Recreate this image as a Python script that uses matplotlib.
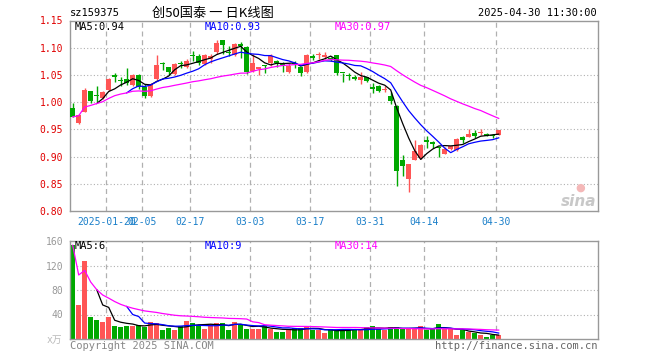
import numpy as np
import pandas as pd
import matplotlib
matplotlib.use('Agg')
import matplotlib.pyplot as plt

plt.rcParams['font.family'] = ['DejaVu Sans Mono', 'Noto Sans CJK SC']

# daily bars, 2025-01-10 .. 2025-04-30 (72 trading days)
open_ = [0.989, 0.962, 0.982, 1.020, 1.012, 1.007, 1.022, 1.048, 1.040, 1.042,
         1.031, 1.050, 1.028, 1.011, 1.042, 1.071, 1.064, 1.051, 1.071, 1.064,
         1.086, 1.085, 1.070, 1.079, 1.092, 1.114, 1.093, 1.087, 1.107, 1.102,
         1.058, 1.061, 1.067, 1.072, 1.075, 1.072, 1.056, 1.071, 1.064, 1.056,
         1.083, 1.087, 1.083, 1.080, 1.086, 1.054, 1.049, 1.047, 1.041, 1.046,
         1.026, 1.030, 1.022, 1.012, 0.993, 0.894, 0.858, 0.894, 0.898, 0.931,
         0.925, 0.916, 0.905, 0.913, 0.912, 0.936, 0.936, 0.944, 0.944, 0.942,
         0.939, 0.940]
high = [0.998, 0.978, 1.026, 1.021, 1.029, 1.020, 1.045, 1.054, 1.047, 1.062,
        1.052, 1.052, 1.034, 1.035, 1.086, 1.073, 1.064, 1.072, 1.075, 1.080,
        1.094, 1.088, 1.088, 1.088, 1.115, 1.115, 1.104, 1.108, 1.111, 1.103,
        1.089, 1.065, 1.068, 1.089, 1.078, 1.073, 1.072, 1.075, 1.064, 1.089,
        1.089, 1.092, 1.092, 1.083, 1.087, 1.054, 1.054, 1.050, 1.055, 1.047,
        1.036, 1.031, 1.029, 1.019, 0.995, 0.902, 0.887, 0.931, 0.924, 0.937,
        0.928, 0.919, 0.918, 0.920, 0.934, 0.937, 0.951, 0.948, 0.951, 0.943,
        0.942, 0.948]
low = [0.972, 0.960, 0.981, 0.998, 1.000, 1.005, 1.020, 1.037, 1.030, 1.031,
       1.030, 1.025, 1.008, 1.009, 1.041, 1.059, 1.050, 1.049, 1.062, 1.062,
       1.075, 1.068, 1.068, 1.072, 1.088, 1.088, 1.084, 1.085, 1.081, 1.051,
       1.056, 1.050, 1.054, 1.067, 1.064, 1.056, 1.053, 1.062, 1.048, 1.053,
       1.077, 1.079, 1.079, 1.075, 1.050, 1.037, 1.041, 1.041, 1.033, 1.037,
       1.017, 1.018, 1.019, 0.997, 0.846, 0.865, 0.834, 0.894, 0.895, 0.916,
       0.916, 0.899, 0.904, 0.912, 0.911, 0.925, 0.936, 0.934, 0.940, 0.937,
       0.934, 0.940]
close = [0.973, 0.977, 1.023, 1.003, 1.011, 1.018, 1.043, 1.047, 1.039, 1.036,
         1.050, 1.027, 1.012, 1.033, 1.069, 1.070, 1.056, 1.070, 1.070, 1.076,
         1.085, 1.072, 1.087, 1.085, 1.108, 1.105, 1.091, 1.106, 1.103, 1.056,
         1.072, 1.064, 1.066, 1.084, 1.071, 1.069, 1.067, 1.070, 1.054, 1.087,
         1.082, 1.088, 1.087, 1.079, 1.053, 1.053, 1.048, 1.043, 1.047, 1.039,
         1.025, 1.020, 1.025, 1.003, 0.873, 0.882, 0.887, 0.910, 0.922, 0.926,
         0.924, 0.915, 0.914, 0.919, 0.932, 0.931, 0.942, 0.937, 0.945, 0.938,
         0.938, 0.948]
# volume in 万
volume = [153, 56, 127, 36, 31, 28, 36, 22, 20, 22,
          22, 23, 20, 28, 26, 15, 18, 15, 22, 30,
          26, 23, 17, 25, 26, 26, 15, 28, 25, 17,
          17, 17, 22, 16, 12, 12, 16, 18, 18, 20,
          15, 15, 9, 16, 13, 16, 16, 16, 16, 20,
          22, 16, 14, 20, 20, 16, 16, 16, 22, 14,
          16, 25, 16, 16, 7, 15, 11, 9, 7, 4,
          6, 6]

date_ticks = [6, 12, 20, 30, 40, 50, 59, 71]
date_labels = ['2025-01-20', '02-05', '02-17', '03-03', '03-17', '03-31', '04-14', '04-30']
price_ticks = [0.80, 0.85, 0.90, 0.95, 1.00, 1.05, 1.10, 1.15]
vol_ticks = [40, 80, 120, 160]

RED = '#ff5555'
GREEN = '#00a800'
GRID = '#b0b0b0'
W, H = 660, 360

o = np.array(open_); c = np.array(close)
x = np.arange(len(c))
cols = np.where(c >= o, RED, GREEN)

def ma(vals, n):
    s = pd.Series(vals, dtype=float)
    if n == 30:
        return s.rolling(n, min_periods=1).mean()
    return s.rolling(n).mean()

fig = plt.figure(figsize=(6.6, 3.6), dpi=100)

def px_axes(l, t, r, b):
    return fig.add_axes([l / W, 1 - b / H, (r - l) / W, (b - t) / H])

x0 = (70 - 72.7) / 6
x1 = (597.7 - 72.7) / 6

ax = px_axes(70, 20.5, 597.7, 211)
ax2 = px_axes(70, 241, 597.7, 339)

for a in (ax, ax2):
    a.set_xlim(x0, x1)
    for sp in a.spines.values():
        sp.set_color('#999999')
        sp.set_linewidth(1)
    a.tick_params(length=0)
    for t in date_ticks:
        a.axvline(t - 0.4, color=GRID, lw=0.9, ls=(0, (4, 3)), zorder=0)

# price panel
ax.set_ylim(0.80, 1.15)
for p in price_ticks[1:-1]:
    ax.axhline(p, color=GRID, lw=0.8, ls=(0, (1, 2)), zorder=0)
ax.vlines(x, low, high, colors=cols, lw=1, zorder=2)
body_bot = np.minimum(o, c)
body_h = np.maximum(np.abs(c - o), 0.002)
ax.bar(x, body_h, bottom=body_bot, width=0.8, color=cols, lw=0, zorder=3)
ax.plot(x, ma(close, 5), color='black', lw=0.9, zorder=4)
ax.plot(x, ma(close, 10), color='#0000ff', lw=0.9, zorder=4)
ax.plot(x, ma(close, 30), color='#ff00ff', lw=0.9, zorder=4)
ax.set_yticks(price_ticks)
ax.set_yticklabels(['%.2f' % p for p in price_ticks], color='#e00000', fontsize=7)
ax.set_xticks([t - 0.4 for t in date_ticks])
ax.set_xticklabels(date_labels, color='#1a7fc9', fontsize=7)
ax.tick_params(axis='y', pad=5)
ax.tick_params(axis='x', pad=4)

# volume panel
ax2.set_ylim(0, 160)
for v in vol_ticks[:-1]:
    ax2.axhline(v, color=GRID, lw=0.8, ls=(0, (1, 2)), zorder=0)
ax2.bar(x, volume, width=0.8, color=cols, lw=0, zorder=2)
ax2.plot(x, ma(volume, 5), color='black', lw=0.9, zorder=4)
ax2.plot(x, ma(volume, 10), color='#0000ff', lw=0.9, zorder=4)
ax2.plot(x, ma(volume, 30), color='#ff00ff', lw=0.9, zorder=4)
ax2.set_yticks(vol_ticks)
ax2.set_yticklabels([str(v) for v in vol_ticks], color='#999999', fontsize=7)
ax2.set_xticks([])
ax2.tick_params(axis='y', pad=5)

def ftext(px, py, s, **kw):
    fig.text(px / W, 1 - py / H, s, va='center', **kw)

ftext(70, 13, 'sz159375', fontsize=7.5)
ftext(213, 13, '创50国泰 一 日K线图', fontsize=9.5, ha='center', family='Noto Sans CJK SC')
ftext(597, 13, '2025-04-30 11:30:00', fontsize=7.5, ha='right')
ftext(75, 27, 'MA5:0.94', fontsize=7.5)
ftext(205, 27, 'MA10:0.93', fontsize=7.5, color='#0000ff')
ftext(335, 27, 'MA30:0.97', fontsize=7.5, color='#ff00ff')
ftext(75, 246, 'MA5:6', fontsize=7.5)
ftext(205, 246, 'MA10:9', fontsize=7.5, color='#0000ff')
ftext(335, 246, 'MA30:14', fontsize=7.5, color='#ff00ff')
ftext(62, 340, 'x万', fontsize=7, ha='right', color='#bbbbbb')
ftext(70, 346, 'Copyright 2025 SINA.COM', fontsize=7.5, color='#888888')
ftext(597, 346, 'http://finance.sina.com.cn', fontsize=7.5, ha='right', color='#666666')

# sina watermark
ftext(596, 202, 'sina', fontsize=11, ha='right', color='#c8c8c8',
      family='DejaVu Sans', style='italic', weight='bold')
ftext(580, 188, '●', fontsize=8, ha='center', color='#f4b8b8', family='DejaVu Sans')

fig.savefig('out.png', dpi=100)
